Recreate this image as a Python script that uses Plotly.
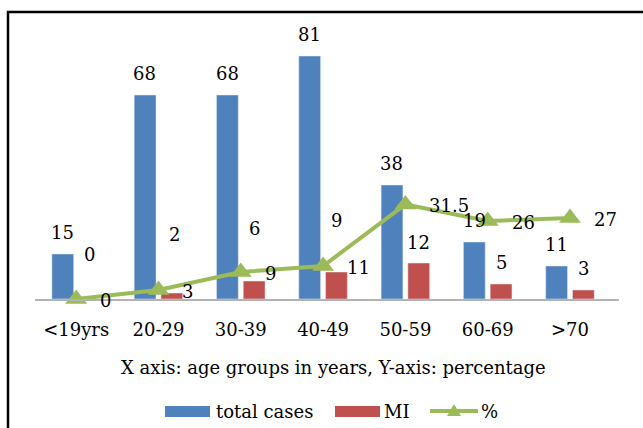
import plotly.graph_objects as go

# Age groups and counts
age_groups = ["<19yrs", "20-29", "30-39", "40-49", "50-59", "60-69", ">70"]
total_cases = [15, 68, 68, 81, 38, 19, 11]
mi_cases = [0, 2, 6, 9, 12, 5, 3]
mi_percent = [0, 3, 9, 11, 31.5, 26, 27]

BLUE = "#4F81BD"
RED = "#C0504D"
GREEN = "#9BBB59"
FONT = "DejaVu Serif"
FS = 18

W, H = 643, 428
ML, MR, MT, MB = 35, 24, 29, 129
PW, PH = W - ML - MR, H - MT - MB


def px(x):
    return (x - ML) / PW


def py(y):
    return (H - MB - y) / PH


fig = go.Figure()
fig.add_trace(go.Bar(x=age_groups, y=total_cases, name="total cases",
                     marker=dict(color=BLUE), showlegend=False))
fig.add_trace(go.Bar(x=age_groups, y=mi_cases, name="MI",
                     marker=dict(color=RED), showlegend=False))
fig.add_trace(go.Scatter(x=age_groups, y=mi_percent, name="%",
                         mode="lines+markers",
                         line=dict(color=GREEN, width=4),
                         marker=dict(symbol="triangle-up", size=19, color=GREEN),
                         cliponaxis=False, showlegend=False))

annotations = []
half_bar = 13.5
# total case labels above the blue bars
for g, v in zip(age_groups, total_cases):
    annotations.append(dict(x=g, y=v, xref="x", yref="y", text=str(v),
                            showarrow=False, xshift=-half_bar, yshift=22,
                            xanchor="center", yanchor="middle"))
# MI labels (some lifted well above their bars)
mi_label_offsets = [(0, 45), (3, 59), (0, 53), (0, 52), (0, 21), (0, 22), (0, 22)]
for g, v, (dx, dy) in zip(age_groups, mi_cases, mi_label_offsets):
    annotations.append(dict(x=g, y=v, xref="x", yref="y", text=str(v),
                            showarrow=False, xshift=half_bar + dx, yshift=dy,
                            xanchor="center", yanchor="middle"))
# percentage labels to the right of the markers
for g, v in zip(age_groups, mi_percent):
    annotations.append(dict(x=g, y=v, xref="x", yref="y", text=f"{v:g}",
                            showarrow=False, xshift=22, yshift=-1,
                            xanchor="left", yanchor="middle"))

# axis caption
annotations.append(dict(x=px(333), y=py(367), xref="paper", yref="paper",
                        text="X axis: age groups in years, Y-axis: percentage",
                        showarrow=False, xanchor="center", yanchor="middle"))

# legend entries
leg_y = 411
annotations += [
    dict(x=px(214), y=py(leg_y), xref="paper", yref="paper", text="total cases",
         showarrow=False, xanchor="left", yanchor="middle"),
    dict(x=px(382), y=py(leg_y), xref="paper", yref="paper", text="MI",
         showarrow=False, xanchor="left", yanchor="middle"),
    dict(x=px(479), y=py(leg_y), xref="paper", yref="paper", text="%",
         showarrow=False, xanchor="left", yanchor="middle"),
]

shapes = [
    # outer frame
    dict(type="rect", xref="paper", yref="paper",
         x0=px(8), x1=px(680), y0=py(460), y1=py(12),
         line=dict(color="black", width=2.5), fillcolor="rgba(0,0,0,0)"),
    # legend swatches
    dict(type="rect", xref="paper", yref="paper",
         x0=px(165), x1=px(210), y0=py(417), y1=py(406),
         line=dict(width=0), fillcolor=BLUE),
    dict(type="rect", xref="paper", yref="paper",
         x0=px(335), x1=px(380), y0=py(417), y1=py(406),
         line=dict(width=0), fillcolor=RED),
    dict(type="line", xref="paper", yref="paper",
         x0=px(430), x1=px(478), y0=py(leg_y), y1=py(leg_y),
         line=dict(color=GREEN, width=4)),
    dict(type="path", xref="paper", yref="paper",
         path=(f"M {px(447)} {py(416)} L {px(461)} {py(416)} "
               f"L {px(454)} {py(404)} Z"),
         line=dict(width=0), fillcolor=GREEN),
]

fig.update_layout(
    width=W, height=H,
    margin=dict(l=ML, r=MR, t=MT, b=MB),
    paper_bgcolor="white", plot_bgcolor="white",
    barmode="group", bargap=0.35, bargroupgap=0.185,
    font=dict(family=FONT, size=FS, color="black"),
    showlegend=False,
    annotations=annotations,
    shapes=shapes,
    xaxis=dict(showline=True, linecolor="#B3B3B3", linewidth=1.5,
               showgrid=False, ticks="", ticklabelstandoff=14,
               tickfont=dict(family=FONT, size=FS, color="black")),
    yaxis=dict(range=[0, 90], visible=False, showgrid=False, zeroline=False),
)

fig.write_html("out.html")
